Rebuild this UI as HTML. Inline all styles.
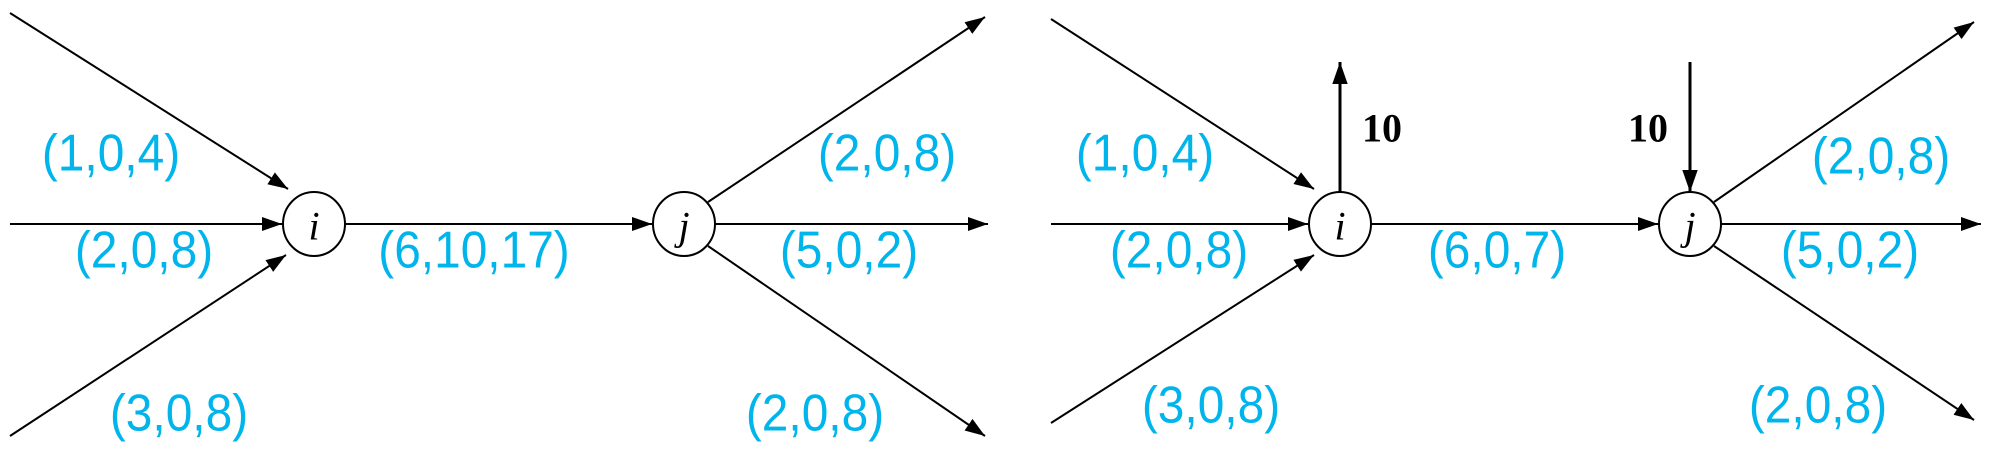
<!DOCTYPE html>
<html><head><meta charset="utf-8"><style>
html,body{margin:0;padding:0;background:#fff;}
svg{display:block;}
.lbl{font-family:"Liberation Sans",sans-serif;font-size:52px;fill:#00b4ec;text-anchor:middle;dominant-baseline:central;}
.node text{font-family:"Liberation Serif",serif;font-style:italic;font-size:40px;text-anchor:middle;dominant-baseline:central;}
.ten{font-family:"Liberation Serif",serif;font-weight:bold;font-size:40px;dominant-baseline:central;}
</style></head><body>
<svg id="d" width="2000" height="472" viewBox="0 0 2000 472" xmlns="http://www.w3.org/2000/svg">
<defs>
<marker id="ah" viewBox="0 0 10 10" refX="10" refY="5" markerWidth="20" markerHeight="20" markerUnits="userSpaceOnUse" orient="auto"><path d="M0,1.5 L10,5 L0,8.5 z" fill="#000"/></marker>
<marker id="ahb" viewBox="0 0 10 10" refX="10" refY="5" markerWidth="22" markerHeight="22" markerUnits="userSpaceOnUse" orient="auto"><path d="M0,1.5 L10,5 L0,8.5 z" fill="#000"/></marker>
</defs>
</svg>
<script>
const nodes=[["i",314,224,"node-i-left"],["j",684,224,"node-j-left"],["i",1340,224,"node-i-right"],["j",1690,224,"node-j-right"]];
const edges=[
[10,13,288,189,"(1,0,4)",111,153,"edge-in-top-left"],
[10,224,282,224,"(2,0,8)",144,250,"edge-in-mid-left"],
[10,436,286,255,"(3,0,8)",179,413,"edge-in-bottom-left"],
[346,224,652,224,"(6,10,17)",474,250,"edge-ij-left"],
[708,202,985,17,"(2,0,8)",887,153,"edge-out-top-left"],
[715,224,988,224,"(5,0,2)",849,250,"edge-out-mid-left"],
[708,246,985,436,"(2,0,8)",815,413,"edge-out-bottom-left"],
[1051,19,1314,189,"(1,0,4)",1145,153,"edge-in-top-right"],
[1051,224,1308,224,"(2,0,8)",1179,250,"edge-in-mid-right"],
[1051,423,1314,255,"(3,0,8)",1211,405,"edge-in-bottom-right"],
[1371,224,1658,224,"(6,0,7)",1497,250,"edge-ij-right"],
[1714,202,1974,22,"(2,0,8)",1881,156,"edge-out-top-right"],
[1721,224,1981,224,"(5,0,2)",1850,250,"edge-out-mid-right"],
[1714,246,1974,420,"(2,0,8)",1818,405,"edge-out-bottom-right"]];
const ns="http://www.w3.org/2000/svg",svg=document.getElementById("d");
function mk(t,a,p){const e=document.createElementNS(ns,t);for(const k in a)e.setAttribute(k,a[k]);(p||svg).appendChild(e);return e;}
edges.forEach(e=>{
 const g=mk("g",{});
 
 
 mk("line",{x1:e[0],y1:e[1],x2:e[2],y2:e[3],stroke:"#000","stroke-width":2,"marker-end":"url(#ah)"},g);
 const t=mk("text",{x:0,y:0,class:"lbl",transform:"translate("+e[5]+","+e[6]+") scale(0.92,1)"},g);t.textContent=e[4];
 
 
});
const sa=[[1340,192,1340,62,"supply-arrow-i"],[1690,62,1690,192,"demand-arrow-j"]];
sa.forEach(a=>{const l=mk("line",{x1:a[0],y1:a[1],x2:a[2],y2:a[3],stroke:"#000","stroke-width":3,"marker-end":"url(#ahb)"});
 
 });
const tens=[[1362,128,"start","supply-label"],[1668,128,"end","demand-label"]];
tens.forEach(a=>{const t=mk("text",{x:a[0],y:a[1],class:"ten","text-anchor":a[2]});t.textContent="10";
 
 });
nodes.forEach(n=>{
 const g=mk("g",{class:"node"});
 
 
 mk("ellipse",{cx:n[1],cy:n[2],rx:31,ry:32,fill:"#fff",stroke:"#000","stroke-width":2},g);
 const t=mk("text",{x:n[1],y:n[2]+2},g);t.textContent=n[0];
});
</script>
</body></html>
